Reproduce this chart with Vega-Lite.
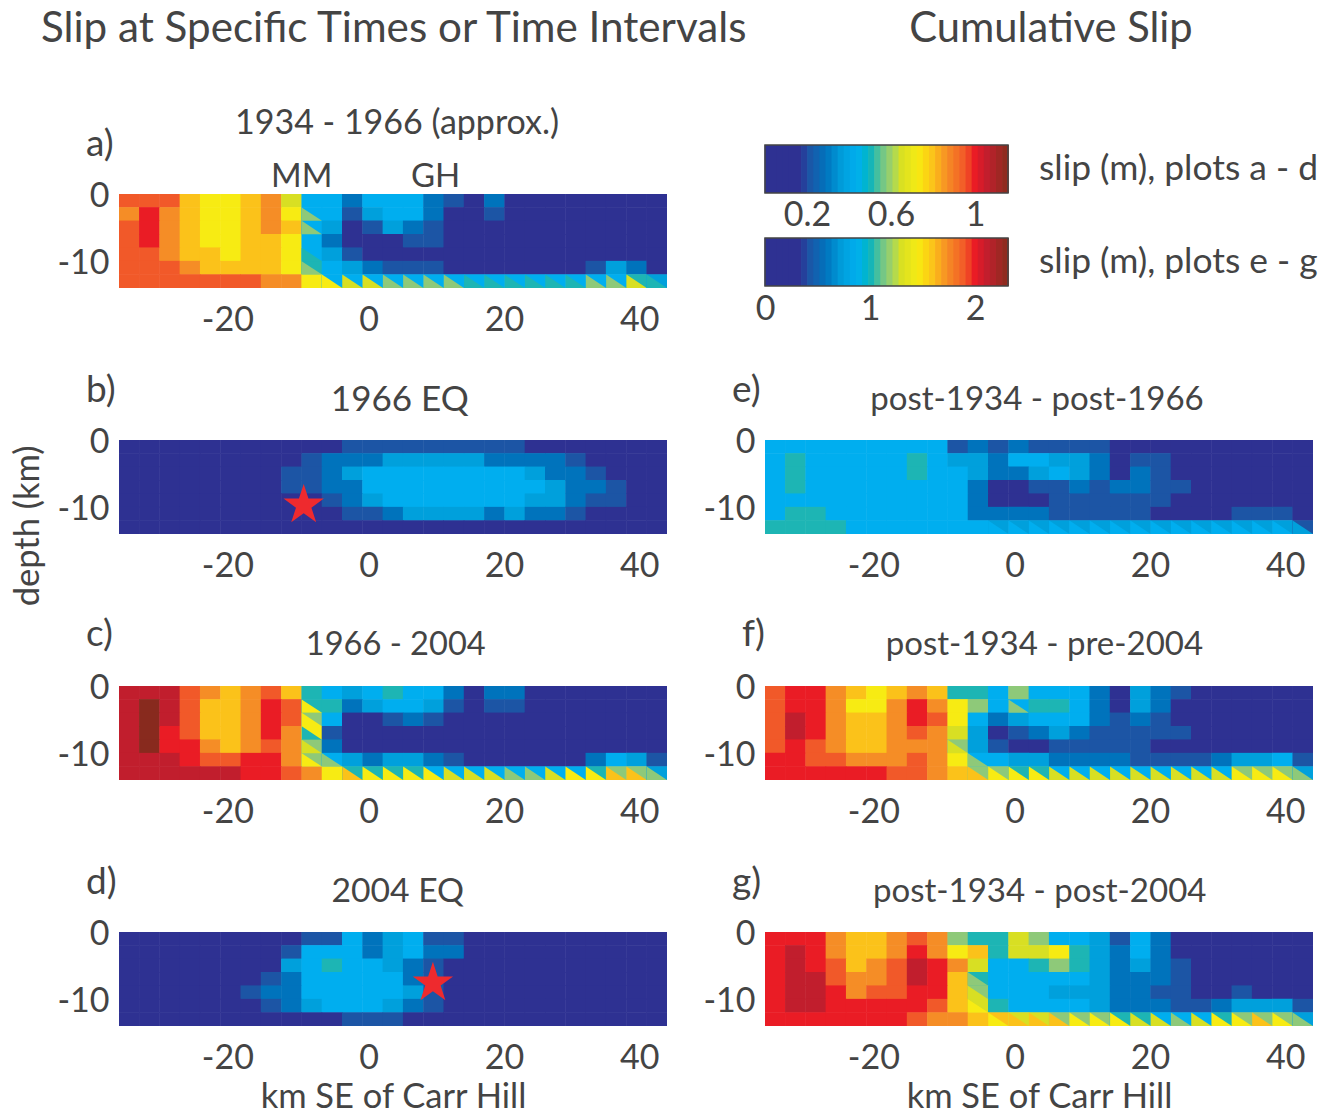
{"$schema":"https://vega.github.io/schema/vega-lite/v6.json","background":"#ffffff","padding":{"left":10,"top":8,"right":0,"bottom":0},"columns":2,"spacing":{"row":152,"column":98},"bounds":"flush","resolve":{"scale":{"color":"independent"}},
"config":{"axis":{"labelFont":"Lato","labelFontSize":34,"labelColor":"#444444","domain":false,"ticks":false,"grid":false,"labelPadding":15,"labelFlush":false,"titleFont":"Lato","titleFontSize":34.5,"titleColor":"#444444","titleFontWeight":"normal","titlePadding":5},"text":{"font":"Lato","color":"#444444"}},
"datasets":{
"cells":[
{"x":-35.7,"z":-1,"a":0.95,"b":0.09,"c":1.06,"d":0.09,"e":0.88,"f":1.9,"g":2},
{"x":-32.7,"z":-1,"a":0.95,"b":0.09,"c":1.06,"d":0.09,"e":0.88,"f":2,"g":2},
{"x":-29.7,"z":-1,"a":0.95,"b":0.09,"c":1.06,"d":0.09,"e":0.88,"f":2,"g":2},
{"x":-26.7,"z":-1,"a":0.8,"b":0.09,"c":0.95,"d":0.09,"e":0.88,"f":1.74,"g":1.74},
{"x":-23.7,"z":-1,"a":0.73,"b":0.09,"c":0.87,"d":0.09,"e":0.88,"f":1.6,"g":1.6},
{"x":-20.7,"z":-1,"a":0.73,"b":0.09,"c":0.8,"d":0.09,"e":0.88,"f":1.46,"g":1.6},
{"x":-17.7,"z":-1,"a":0.8,"b":0.09,"c":0.87,"d":0.09,"e":0.88,"f":1.6,"g":1.74},
{"x":-14.7,"z":-1,"a":0.87,"b":0.09,"c":0.95,"d":0.09,"e":0.88,"f":1.74,"g":1.9},
{"x":-11.7,"z":-1,"a":0.65,"b":0.09,"c":0.8,"d":0.09,"e":0.88,"f":1.6,"g":1.74},
{"x":-8.7,"z":-1,"a":0.44,"b":0.09,"c":0.51,"d":0.21,"e":0.42,"f":1.02,"g":1.16},
{"x":-5.7,"z":-1,"a":0.44,"b":0.09,"c":0.44,"d":0.21,"e":0.58,"f":1.02,"g":1.02},
{"x":-2.7,"z":-1,"a":0.29,"b":0.21,"c":0.37,"d":0.44,"e":0.42,"f":0.88,"g":1.02},
{"x":0.3,"z":-1,"a":0.44,"b":0.21,"c":0.44,"d":0.29,"e":0.58,"f":1.16,"g":1.3},
{"x":3.3,"z":-1,"a":0.44,"b":0.21,"c":0.51,"d":0.37,"e":0.42,"f":0.88,"g":1.16},
{"x":6.3,"z":-1,"a":0.44,"b":0.21,"c":0.44,"d":0.44,"e":0.42,"f":0.88,"g":0.88},
{"x":9.3,"z":-1,"a":0.29,"b":0.21,"c":0.44,"d":0.21,"e":0.42,"f":0.88,"g":0.88},
{"x":12.3,"z":-1,"a":0.21,"b":0.21,"c":0.29,"d":0.21,"e":0.42,"f":0.58,"g":0.74},
{"x":15.3,"z":-1,"a":0.09,"b":0.21,"c":0.09,"d":0.09,"e":0.18,"f":0.18,"g":0.42},
{"x":18.3,"z":-1,"a":0.29,"b":0.21,"c":0.29,"d":0.09,"e":0.18,"f":0.74,"g":0.88},
{"x":21.3,"z":-1,"a":0.09,"b":0.21,"c":0.29,"d":0.09,"e":0.18,"f":0.58,"g":0.58},
{"x":24.3,"z":-1,"a":0.09,"b":0.09,"c":0.09,"d":0.09,"e":0.18,"f":0.42,"g":0.18},
{"x":27.3,"z":-1,"a":0.09,"b":0.09,"c":0.09,"d":0.09,"e":0.18,"f":0.18,"g":0.18},
{"x":30.3,"z":-1,"a":0.09,"b":0.09,"c":0.09,"d":0.09,"e":0.18,"f":0.18,"g":0.18},
{"x":33.3,"z":-1,"a":0.09,"b":0.09,"c":0.09,"d":0.09,"e":0.18,"f":0.18,"g":0.18},
{"x":36.3,"z":-1,"a":0.09,"b":0.09,"c":0.09,"d":0.09,"e":0.18,"f":0.18,"g":0.18},
{"x":39.3,"z":-1,"a":0.09,"b":0.09,"c":0.09,"d":0.09,"e":0.18,"f":0.18,"g":0.18},
{"x":42.3,"z":-1,"a":0.09,"b":0.09,"c":0.09,"d":0.09,"e":0.18,"f":0.18,"g":0.18},
{"x":-35.7,"z":-3,"a":0.87,"b":0.09,"c":1.06,"d":0.09,"e":0.88,"f":1.9,"g":2},
{"x":-32.7,"z":-3,"a":1,"b":0.09,"c":1.16,"d":0.09,"e":1.02,"f":2,"g":2.12},
{"x":-29.7,"z":-3,"a":0.87,"b":0.09,"c":1.06,"d":0.09,"e":0.88,"f":2,"g":2},
{"x":-26.7,"z":-3,"a":0.8,"b":0.09,"c":0.95,"d":0.09,"e":0.88,"f":1.74,"g":1.74},
{"x":-23.7,"z":-3,"a":0.73,"b":0.09,"c":0.8,"d":0.09,"e":0.88,"f":1.46,"g":1.6},
{"x":-20.7,"z":-3,"a":0.73,"b":0.09,"c":0.8,"d":0.09,"e":0.88,"f":1.46,"g":1.6},
{"x":-17.7,"z":-3,"a":0.8,"b":0.09,"c":0.87,"d":0.09,"e":0.88,"f":1.74,"g":1.74},
{"x":-14.7,"z":-3,"a":0.87,"b":0.09,"c":1,"d":0.09,"e":1.02,"f":2,"g":2},
{"x":-11.7,"z":-3,"a":0.73,"b":0.09,"c":0.95,"d":0.21,"e":0.88,"f":1.74,"g":1.74},
{"x":-8.7,"z":-3,"a":0.44,"b":0.21,"c":0.51,"d":0.44,"e":0.74,"f":1.46,"g":1.46},
{"x":-5.7,"z":-3,"a":0.44,"b":0.29,"c":0.51,"d":0.44,"e":0.74,"f":1.16,"g":1.6},
{"x":-2.7,"z":-3,"a":0.21,"b":0.29,"c":0.29,"d":0.44,"e":0.58,"f":0.88,"g":1.02},
{"x":0.3,"z":-3,"a":0.37,"b":0.29,"c":0.37,"d":0.29,"e":0.88,"f":0.88,"g":1.3},
{"x":3.3,"z":-3,"a":0.44,"b":0.37,"c":0.44,"d":0.37,"e":0.88,"f":1.02,"g":1.3},
{"x":6.3,"z":-3,"a":0.44,"b":0.37,"c":0.44,"d":0.44,"e":0.74,"f":1.02,"g":1.46},
{"x":9.3,"z":-3,"a":0.29,"b":0.37,"c":0.37,"d":0.29,"e":0.74,"f":0.88,"g":1.02},
{"x":12.3,"z":-3,"a":0.09,"b":0.37,"c":0.21,"d":0.29,"e":0.58,"f":0.58,"g":0.74},
{"x":15.3,"z":-3,"a":0.09,"b":0.37,"c":0.09,"d":0.09,"e":0.18,"f":0.18,"g":0.58},
{"x":18.3,"z":-3,"a":0.21,"b":0.29,"c":0.21,"d":0.09,"e":0.42,"f":0.74,"g":0.88},
{"x":21.3,"z":-3,"a":0.09,"b":0.29,"c":0.21,"d":0.09,"e":0.42,"f":0.58,"g":0.58},
{"x":24.3,"z":-3,"a":0.09,"b":0.29,"c":0.09,"d":0.09,"e":0.18,"f":0.18,"g":0.18},
{"x":27.3,"z":-3,"a":0.09,"b":0.29,"c":0.09,"d":0.09,"e":0.18,"f":0.18,"g":0.18},
{"x":30.3,"z":-3,"a":0.09,"b":0.21,"c":0.09,"d":0.09,"e":0.18,"f":0.18,"g":0.18},
{"x":33.3,"z":-3,"a":0.09,"b":0.09,"c":0.09,"d":0.09,"e":0.18,"f":0.18,"g":0.18},
{"x":36.3,"z":-3,"a":0.09,"b":0.09,"c":0.09,"d":0.09,"e":0.18,"f":0.18,"g":0.18},
{"x":39.3,"z":-3,"a":0.09,"b":0.09,"c":0.09,"d":0.09,"e":0.18,"f":0.18,"g":0.18},
{"x":42.3,"z":-3,"a":0.09,"b":0.09,"c":0.09,"d":0.09,"e":0.18,"f":0.18,"g":0.18},
{"x":-35.7,"z":-5,"a":0.95,"b":0.09,"c":1.06,"d":0.09,"e":0.88,"f":1.9,"g":2},
{"x":-32.7,"z":-5,"a":1,"b":0.09,"c":1.16,"d":0.09,"e":1.02,"f":2.12,"g":2.12},
{"x":-29.7,"z":-5,"a":0.87,"b":0.09,"c":1.06,"d":0.09,"e":0.88,"f":2,"g":2},
{"x":-26.7,"z":-5,"a":0.8,"b":0.09,"c":0.95,"d":0.09,"e":0.88,"f":1.74,"g":1.9},
{"x":-23.7,"z":-5,"a":0.73,"b":0.09,"c":0.8,"d":0.09,"e":0.88,"f":1.6,"g":1.6},
{"x":-20.7,"z":-5,"a":0.73,"b":0.09,"c":0.8,"d":0.09,"e":0.88,"f":1.6,"g":1.74},
{"x":-17.7,"z":-5,"a":0.8,"b":0.09,"c":0.87,"d":0.09,"e":0.88,"f":1.74,"g":1.9},
{"x":-14.7,"z":-5,"a":0.87,"b":0.09,"c":1,"d":0.09,"e":1.02,"f":2,"g":2.12},
{"x":-11.7,"z":-5,"a":0.8,"b":0.21,"c":0.95,"d":0.37,"e":0.88,"f":1.9,"g":2},
{"x":-8.7,"z":-5,"a":0.44,"b":0.21,"c":0.58,"d":0.44,"e":0.88,"f":1.46,"g":1.74},
{"x":-5.7,"z":-5,"a":0.37,"b":0.29,"c":0.44,"d":0.51,"e":0.74,"f":0.88,"g":1.3},
{"x":-2.7,"z":-5,"a":0.09,"b":0.37,"c":0.09,"d":0.44,"e":0.58,"f":0.58,"g":0.88},
{"x":0.3,"z":-5,"a":0.21,"b":0.44,"c":0.09,"d":0.44,"e":0.58,"f":0.74,"g":0.88},
{"x":3.3,"z":-5,"a":0.37,"b":0.44,"c":0.21,"d":0.37,"e":0.74,"f":0.88,"g":1.02},
{"x":6.3,"z":-5,"a":0.29,"b":0.44,"c":0.29,"d":0.29,"e":0.88,"f":0.88,"g":1.16},
{"x":9.3,"z":-5,"a":0.21,"b":0.44,"c":0.21,"d":0.21,"e":0.74,"f":0.88,"g":1.02},
{"x":12.3,"z":-5,"a":0.09,"b":0.44,"c":0.09,"d":0.09,"e":0.58,"f":0.58,"g":0.74},
{"x":15.3,"z":-5,"a":0.09,"b":0.44,"c":0.09,"d":0.09,"e":0.18,"f":0.42,"g":0.58},
{"x":18.3,"z":-5,"a":0.09,"b":0.44,"c":0.09,"d":0.09,"e":0.58,"f":0.58,"g":0.74},
{"x":21.3,"z":-5,"a":0.09,"b":0.44,"c":0.09,"d":0.09,"e":0.42,"f":0.42,"g":0.58},
{"x":24.3,"z":-5,"a":0.09,"b":0.37,"c":0.09,"d":0.09,"e":0.18,"f":0.18,"g":0.42},
{"x":27.3,"z":-5,"a":0.09,"b":0.29,"c":0.09,"d":0.09,"e":0.18,"f":0.18,"g":0.18},
{"x":30.3,"z":-5,"a":0.09,"b":0.29,"c":0.09,"d":0.09,"e":0.18,"f":0.18,"g":0.18},
{"x":33.3,"z":-5,"a":0.09,"b":0.21,"c":0.09,"d":0.09,"e":0.18,"f":0.18,"g":0.18},
{"x":36.3,"z":-5,"a":0.09,"b":0.09,"c":0.09,"d":0.09,"e":0.18,"f":0.18,"g":0.18},
{"x":39.3,"z":-5,"a":0.09,"b":0.09,"c":0.09,"d":0.09,"e":0.18,"f":0.18,"g":0.18},
{"x":42.3,"z":-5,"a":0.09,"b":0.09,"c":0.09,"d":0.09,"e":0.18,"f":0.18,"g":0.18},
{"x":-35.7,"z":-7,"a":0.95,"b":0.09,"c":1.06,"d":0.09,"e":0.88,"f":1.9,"g":2},
{"x":-32.7,"z":-7,"a":1,"b":0.09,"c":1.16,"d":0.09,"e":1.02,"f":2.12,"g":2.12},
{"x":-29.7,"z":-7,"a":0.87,"b":0.09,"c":1,"d":0.09,"e":0.88,"f":2,"g":2.12},
{"x":-26.7,"z":-7,"a":0.8,"b":0.09,"c":0.95,"d":0.09,"e":0.88,"f":1.74,"g":1.9},
{"x":-23.7,"z":-7,"a":0.73,"b":0.09,"c":0.8,"d":0.09,"e":0.88,"f":1.6,"g":1.74},
{"x":-20.7,"z":-7,"a":0.73,"b":0.09,"c":0.8,"d":0.09,"e":0.88,"f":1.6,"g":1.74},
{"x":-17.7,"z":-7,"a":0.8,"b":0.09,"c":0.87,"d":0.09,"e":0.88,"f":1.74,"g":1.9},
{"x":-14.7,"z":-7,"a":0.8,"b":0.09,"c":1,"d":0.21,"e":0.88,"f":1.9,"g":2.12},
{"x":-11.7,"z":-7,"a":0.73,"b":0.21,"c":0.87,"d":0.29,"e":0.88,"f":1.74,"g":2},
{"x":-8.7,"z":-7,"a":0.44,"b":0.21,"c":0.73,"d":0.44,"e":0.88,"f":1.3,"g":1.6},
{"x":-5.7,"z":-7,"a":0.29,"b":0.29,"c":0.21,"d":0.44,"e":0.58,"f":0.74,"g":1.02},
{"x":-2.7,"z":-7,"a":0.09,"b":0.29,"c":0.09,"d":0.44,"e":0.18,"f":0.18,"g":0.88},
{"x":0.3,"z":-7,"a":0.09,"b":0.44,"c":0.09,"d":0.44,"e":0.18,"f":0.42,"g":0.88},
{"x":3.3,"z":-7,"a":0.09,"b":0.44,"c":0.09,"d":0.44,"e":0.42,"f":0.58,"g":0.88},
{"x":6.3,"z":-7,"a":0.21,"b":0.44,"c":0.09,"d":0.29,"e":0.42,"f":0.74,"g":0.88},
{"x":9.3,"z":-7,"a":0.21,"b":0.44,"c":0.09,"d":0.21,"e":0.58,"f":0.58,"g":0.88},
{"x":12.3,"z":-7,"a":0.09,"b":0.44,"c":0.09,"d":0.09,"e":0.42,"f":0.42,"g":0.74},
{"x":15.3,"z":-7,"a":0.09,"b":0.44,"c":0.09,"d":0.09,"e":0.58,"f":0.42,"g":0.58},
{"x":18.3,"z":-7,"a":0.09,"b":0.44,"c":0.09,"d":0.09,"e":0.58,"f":0.42,"g":0.58},
{"x":21.3,"z":-7,"a":0.09,"b":0.44,"c":0.09,"d":0.09,"e":0.42,"f":0.42,"g":0.58},
{"x":24.3,"z":-7,"a":0.09,"b":0.44,"c":0.09,"d":0.09,"e":0.42,"f":0.42,"g":0.42},
{"x":27.3,"z":-7,"a":0.09,"b":0.37,"c":0.09,"d":0.09,"e":0.18,"f":0.18,"g":0.18},
{"x":30.3,"z":-7,"a":0.09,"b":0.29,"c":0.09,"d":0.09,"e":0.18,"f":0.18,"g":0.18},
{"x":33.3,"z":-7,"a":0.09,"b":0.29,"c":0.09,"d":0.09,"e":0.18,"f":0.18,"g":0.18},
{"x":36.3,"z":-7,"a":0.09,"b":0.21,"c":0.09,"d":0.09,"e":0.18,"f":0.18,"g":0.18},
{"x":39.3,"z":-7,"a":0.09,"b":0.09,"c":0.09,"d":0.09,"e":0.18,"f":0.18,"g":0.18},
{"x":42.3,"z":-7,"a":0.09,"b":0.09,"c":0.09,"d":0.09,"e":0.18,"f":0.18,"g":0.18},
{"x":-35.7,"z":-9,"a":0.95,"b":0.09,"c":1.06,"d":0.09,"e":0.88,"f":1.9,"g":2},
{"x":-32.7,"z":-9,"a":0.95,"b":0.09,"c":1.16,"d":0.09,"e":0.88,"f":2,"g":2.12},
{"x":-29.7,"z":-9,"a":0.87,"b":0.09,"c":1,"d":0.09,"e":0.88,"f":1.9,"g":2.12},
{"x":-26.7,"z":-9,"a":0.8,"b":0.09,"c":1,"d":0.09,"e":0.88,"f":1.74,"g":2},
{"x":-23.7,"z":-9,"a":0.8,"b":0.09,"c":0.87,"d":0.09,"e":0.88,"f":1.6,"g":1.74},
{"x":-20.7,"z":-9,"a":0.73,"b":0.09,"c":0.8,"d":0.09,"e":0.88,"f":1.6,"g":1.9},
{"x":-17.7,"z":-9,"a":0.8,"b":0.09,"c":0.87,"d":0.21,"e":0.88,"f":1.74,"g":1.9},
{"x":-14.7,"z":-9,"a":0.8,"b":0.09,"c":0.95,"d":0.29,"e":0.88,"f":1.74,"g":2},
{"x":-11.7,"z":-9,"a":0.73,"b":0.09,"c":0.87,"d":0.29,"e":0.88,"f":1.74,"g":2},
{"x":-8.7,"z":-9,"a":0.44,"b":0.09,"c":0.58,"d":0.44,"e":0.88,"f":1.16,"g":1.6},
{"x":-5.7,"z":-9,"a":0.37,"b":0.21,"c":0.29,"d":0.44,"e":0.58,"f":0.74,"g":1.16},
{"x":-2.7,"z":-9,"a":0.21,"b":0.29,"c":0.09,"d":0.44,"e":0.18,"f":0.42,"g":0.88},
{"x":0.3,"z":-9,"a":0.09,"b":0.37,"c":0.09,"d":0.44,"e":0.18,"f":0.18,"g":0.88},
{"x":3.3,"z":-9,"a":0.09,"b":0.44,"c":0.09,"d":0.44,"e":0.18,"f":0.18,"g":0.88},
{"x":6.3,"z":-9,"a":0.09,"b":0.44,"c":0.09,"d":0.37,"e":0.42,"f":0.42,"g":0.74},
{"x":9.3,"z":-9,"a":0.09,"b":0.44,"c":0.09,"d":0.21,"e":0.42,"f":0.42,"g":0.74},
{"x":12.3,"z":-9,"a":0.09,"b":0.44,"c":0.09,"d":0.09,"e":0.42,"f":0.42,"g":0.74},
{"x":15.3,"z":-9,"a":0.09,"b":0.44,"c":0.09,"d":0.09,"e":0.42,"f":0.42,"g":0.58},
{"x":18.3,"z":-9,"a":0.09,"b":0.44,"c":0.09,"d":0.09,"e":0.42,"f":0.42,"g":0.58},
{"x":21.3,"z":-9,"a":0.09,"b":0.44,"c":0.09,"d":0.09,"e":0.42,"f":0.18,"g":0.42},
{"x":24.3,"z":-9,"a":0.09,"b":0.37,"c":0.09,"d":0.09,"e":0.18,"f":0.18,"g":0.42},
{"x":27.3,"z":-9,"a":0.09,"b":0.37,"c":0.09,"d":0.09,"e":0.18,"f":0.18,"g":0.18},
{"x":30.3,"z":-9,"a":0.09,"b":0.29,"c":0.09,"d":0.09,"e":0.18,"f":0.18,"g":0.18},
{"x":33.3,"z":-9,"a":0.09,"b":0.21,"c":0.09,"d":0.09,"e":0.18,"f":0.18,"g":0.42},
{"x":36.3,"z":-9,"a":0.09,"b":0.21,"c":0.09,"d":0.09,"e":0.18,"f":0.18,"g":0.18},
{"x":39.3,"z":-9,"a":0.09,"b":0.09,"c":0.09,"d":0.09,"e":0.18,"f":0.18,"g":0.18},
{"x":42.3,"z":-9,"a":0.09,"b":0.09,"c":0.09,"d":0.09,"e":0.18,"f":0.18,"g":0.18},
{"x":-35.7,"z":-11,"a":0.95,"b":0.09,"c":1.06,"d":0.09,"e":0.88,"f":2,"g":2},
{"x":-32.7,"z":-11,"a":0.95,"b":0.09,"c":1.06,"d":0.09,"e":1.02,"f":2,"g":2.12},
{"x":-29.7,"z":-11,"a":0.95,"b":0.09,"c":1.06,"d":0.09,"e":1.02,"f":1.9,"g":2.12},
{"x":-26.7,"z":-11,"a":0.87,"b":0.09,"c":1,"d":0.09,"e":0.88,"f":1.9,"g":2},
{"x":-23.7,"z":-11,"a":0.8,"b":0.09,"c":0.95,"d":0.09,"e":0.88,"f":1.74,"g":2},
{"x":-20.7,"z":-11,"a":0.8,"b":0.09,"c":0.95,"d":0.09,"e":0.88,"f":1.74,"g":2},
{"x":-17.7,"z":-11,"a":0.8,"b":0.09,"c":1,"d":0.09,"e":0.88,"f":1.74,"g":2},
{"x":-14.7,"z":-11,"a":0.8,"b":0.09,"c":1,"d":0.21,"e":0.88,"f":1.9,"g":2},
{"x":-11.7,"z":-11,"a":0.73,"b":0.09,"c":0.87,"d":0.29,"e":0.88,"f":1.74,"g":1.9},
{"x":-8.7,"z":-11,"a":0.51,"b":0.09,"c":0.58,"d":0.37,"e":0.88,"f":1.46,"g":1.6},
{"x":-5.7,"z":-11,"a":0.44,"b":0.09,"c":0.44,"d":0.44,"e":0.58,"f":0.88,"g":1.3},
{"x":-2.7,"z":-11,"a":0.37,"b":0.21,"c":0.37,"d":0.44,"e":0.58,"f":0.88,"g":1.02},
{"x":0.3,"z":-11,"a":0.29,"b":0.21,"c":0.29,"d":0.44,"e":0.58,"f":0.74,"g":0.88},
{"x":3.3,"z":-11,"a":0.21,"b":0.29,"c":0.37,"d":0.37,"e":0.58,"f":0.74,"g":0.88},
{"x":6.3,"z":-11,"a":0.21,"b":0.37,"c":0.37,"d":0.29,"e":0.42,"f":0.58,"g":0.88},
{"x":9.3,"z":-11,"a":0.21,"b":0.37,"c":0.29,"d":0.21,"e":0.42,"f":0.58,"g":0.88},
{"x":12.3,"z":-11,"a":0.09,"b":0.37,"c":0.21,"d":0.09,"e":0.42,"f":0.58,"g":0.74},
{"x":15.3,"z":-11,"a":0.09,"b":0.37,"c":0.09,"d":0.09,"e":0.42,"f":0.58,"g":0.58},
{"x":18.3,"z":-11,"a":0.09,"b":0.29,"c":0.09,"d":0.09,"e":0.42,"f":0.42,"g":0.58},
{"x":21.3,"z":-11,"a":0.09,"b":0.37,"c":0.09,"d":0.09,"e":0.18,"f":0.42,"g":0.58},
{"x":24.3,"z":-11,"a":0.09,"b":0.29,"c":0.09,"d":0.09,"e":0.18,"f":0.42,"g":0.42},
{"x":27.3,"z":-11,"a":0.09,"b":0.29,"c":0.09,"d":0.09,"e":0.18,"f":0.42,"g":0.42},
{"x":30.3,"z":-11,"a":0.09,"b":0.21,"c":0.09,"d":0.09,"e":0.18,"f":0.58,"g":0.58},
{"x":33.3,"z":-11,"a":0.21,"b":0.09,"c":0.29,"d":0.09,"e":0.42,"f":0.74,"g":0.74},
{"x":36.3,"z":-11,"a":0.37,"b":0.09,"c":0.44,"d":0.09,"e":0.42,"f":0.74,"g":0.74},
{"x":39.3,"z":-11,"a":0.29,"b":0.09,"c":0.37,"d":0.09,"e":0.42,"f":0.88,"g":0.74},
{"x":42.3,"z":-11,"a":0.09,"b":0.09,"c":0.21,"d":0.09,"e":0.18,"f":0.42,"g":0.42},
{"x":-35.7,"z":-13,"a":0.95,"b":0.09,"c":1.06,"d":0.09,"e":1.02,"f":2,"g":2},
{"x":-32.7,"z":-13,"a":0.95,"b":0.09,"c":1.06,"d":0.09,"e":1.02,"f":2,"g":2},
{"x":-29.7,"z":-13,"a":0.95,"b":0.09,"c":1.06,"d":0.09,"e":1.02,"f":2,"g":2},
{"x":-26.7,"z":-13,"a":0.95,"b":0.09,"c":1.06,"d":0.09,"e":1.02,"f":2,"g":2},
{"x":-23.7,"z":-13,"a":0.95,"b":0.09,"c":1.06,"d":0.09,"e":0.88,"f":2,"g":2},
{"x":-20.7,"z":-13,"a":0.95,"b":0.09,"c":1.06,"d":0.09,"e":0.88,"f":2,"g":2},
{"x":-17.7,"z":-13,"a":0.95,"b":0.09,"c":1,"d":0.09,"e":0.88,"f":1.9,"g":2},
{"x":-14.7,"z":-13,"a":0.87,"b":0.09,"c":1,"d":0.09,"e":0.88,"f":1.9,"g":1.9},
{"x":-11.7,"z":-13,"a":0.87,"b":0.09,"c":0.95,"d":0.09,"e":0.88,"f":1.74,"g":1.74},
{"x":-8.7,"z":-13,"a":0.73,"b":0.09,"c":0.87,"d":0.09,"e":0.88,"f":1.6,"g":1.74},
{"x":-5.7,"z":-13,"a":0.44,"b":0.09,"c":0.73,"d":0.09,"e":0.88,"f":1.16,"g":1.6},
{"x":-2.7,"z":-13,"a":0.44,"b":0.09,"c":0.51,"d":0.21,"e":0.74,"f":1.16,"g":1.6},
{"x":0.3,"z":-13,"a":0.44,"b":0.09,"c":0.51,"d":0.21,"e":0.74,"f":1.02,"g":1.3},
{"x":3.3,"z":-13,"a":0.44,"b":0.09,"c":0.51,"d":0.21,"e":0.74,"f":1.02,"g":1.3},
{"x":6.3,"z":-13,"a":0.44,"b":0.09,"c":0.51,"d":0.09,"e":0.74,"f":0.88,"g":1.16},
{"x":9.3,"z":-13,"a":0.44,"b":0.09,"c":0.44,"d":0.09,"e":0.74,"f":0.88,"g":1.16},
{"x":12.3,"z":-13,"a":0.44,"b":0.09,"c":0.44,"d":0.09,"e":0.74,"f":0.88,"g":1.16},
{"x":15.3,"z":-13,"a":0.44,"b":0.09,"c":0.44,"d":0.09,"e":0.74,"f":0.88,"g":1.02},
{"x":18.3,"z":-13,"a":0.44,"b":0.09,"c":0.44,"d":0.09,"e":0.74,"f":0.88,"g":1.02},
{"x":21.3,"z":-13,"a":0.44,"b":0.09,"c":0.44,"d":0.09,"e":0.74,"f":0.88,"g":0.88},
{"x":24.3,"z":-13,"a":0.44,"b":0.09,"c":0.44,"d":0.09,"e":0.74,"f":0.88,"g":0.88},
{"x":27.3,"z":-13,"a":0.44,"b":0.09,"c":0.44,"d":0.09,"e":0.74,"f":0.88,"g":0.88},
{"x":30.3,"z":-13,"a":0.44,"b":0.09,"c":0.44,"d":0.09,"e":0.74,"f":0.88,"g":1.02},
{"x":33.3,"z":-13,"a":0.44,"b":0.09,"c":0.51,"d":0.09,"e":0.74,"f":1.16,"g":1.16},
{"x":36.3,"z":-13,"a":0.44,"b":0.09,"c":0.58,"d":0.09,"e":0.74,"f":1.16,"g":1.16},
{"x":39.3,"z":-13,"a":0.51,"b":0.09,"c":0.58,"d":0.09,"e":0.74,"f":1.16,"g":1.16},
{"x":42.3,"z":-13,"a":0.37,"b":0.09,"c":0.37,"d":0.09,"e":0.42,"f":0.74,"g":0.74}
],
"tri":[
{"x":-5.7,"z":-13,"a":0.73,"f":1.6},
{"x":-2.7,"z":-13,"a":0.65,"c":0.8,"e":0.88,"f":1.46,"g":1.46},
{"x":0.3,"z":-13,"a":0.65,"c":0.73,"e":0.88,"f":1.46,"g":1.6},
{"x":3.3,"z":-13,"a":0.58,"c":0.73,"e":0.88,"f":1.46,"g":1.6},
{"x":6.3,"z":-13,"a":0.58,"c":0.73,"e":0.88,"f":1.3,"g":1.6},
{"x":9.3,"z":-13,"a":0.58,"c":0.73,"e":0.88,"f":1.3,"g":1.46},
{"x":12.3,"z":-13,"a":0.58,"c":0.65,"e":0.88,"f":1.3,"g":1.46},
{"x":15.3,"z":-13,"a":0.51,"c":0.65,"e":0.88,"f":1.3,"g":1.46},
{"x":18.3,"z":-13,"a":0.51,"c":0.65,"e":0.88,"f":1.3,"g":1.3},
{"x":21.3,"z":-13,"a":0.51,"c":0.58,"e":0.88,"f":1.3,"g":1.3},
{"x":24.3,"z":-13,"a":0.51,"c":0.58,"e":0.88,"f":1.3,"g":1.16},
{"x":27.3,"z":-13,"a":0.51,"c":0.65,"e":0.88,"f":1.3,"g":1.3},
{"x":30.3,"z":-13,"a":0.51,"c":0.73,"e":0.88,"f":1.3,"g":1.46},
{"x":33.3,"z":-13,"a":0.58,"c":0.73,"e":0.88,"f":1.46,"g":1.46},
{"x":36.3,"z":-13,"a":0.58,"c":0.8,"e":0.88,"f":1.46,"g":1.6},
{"x":39.3,"z":-13,"a":0.65,"c":0.8,"e":0.88,"f":1.46,"g":1.46},
{"x":42.3,"z":-13,"a":0.51,"c":0.58,"e":0.74,"f":1.16,"g":1.16},
{"x":-8.7,"z":-3,"a":0.58,"c":0.73},
{"x":-8.7,"z":-5,"a":0.58,"c":0.73},
{"x":-8.7,"z":-7,"c":0.51},
{"x":-8.7,"z":-9,"a":0.51,"c":0.65,"f":1.3},
{"x":-8.7,"z":-11,"a":0.58,"c":0.73},
{"x":-5.7,"z":-7,"g":1.16},
{"x":-5.7,"z":-9,"g":1.3},
{"x":-5.7,"z":-11,"c":0.58,"f":1.16,"g":1.46},
{"x":0.3,"z":-3,"f":1.16}
],
"bars":[
{"m":0.014,"n":0.028},{"m":0.043,"n":0.086},{"m":0.072,"n":0.144},{"m":0.101,"n":0.202},{"m":0.13,"n":0.26},{"m":0.159,"n":0.318},{"m":0.188,"n":0.376},{"m":0.217,"n":0.434},{"m":0.246,"n":0.492},{"m":0.275,"n":0.55},{"m":0.304,"n":0.608},{"m":0.333,"n":0.666},{"m":0.362,"n":0.724},{"m":0.391,"n":0.782},{"m":0.42,"n":0.84},{"m":0.449,"n":0.898},{"m":0.478,"n":0.956},{"m":0.507,"n":1.014},{"m":0.536,"n":1.072},{"m":0.565,"n":1.13},{"m":0.594,"n":1.188},{"m":0.623,"n":1.246},{"m":0.652,"n":1.304},{"m":0.681,"n":1.362},{"m":0.71,"n":1.42},{"m":0.739,"n":1.478},{"m":0.768,"n":1.536},{"m":0.797,"n":1.594},{"m":0.826,"n":1.652},{"m":0.855,"n":1.71},{"m":0.884,"n":1.768},{"m":0.913,"n":1.826},{"m":0.942,"n":1.884},{"m":0.971,"n":1.942},{"m":1,"n":2},{"m":1.029,"n":2.058},{"m":1.058,"n":2.116},{"m":1.087,"n":2.174},{"m":1.116,"n":2.232},{"m":1.145,"n":2.29}
]},
"concat":[
{"width":548,"height":94,"view":{"stroke":null},"data":{"name":"cells"},
"encoding":{"x":{"field":"x","type":"quantitative","scale":{"domain":[-37.2,43.8],"nice":false,"zero":false},"axis":{"values":[-20,0,20,40],"title":null,"labelExpr":"''+datum.value","labelOffset":{"condition":{"test":"datum.value==-20","value":-8},"value":-2}}},"y":{"field":"z","type":"quantitative","scale":{"domain":[-14,0],"nice":false,"zero":false},"axis":{"values":[0,-10],"title":null,"labelPadding":10,"labelOffset":2,"labelExpr":"''+datum.value"}}},
"layer":[
{"mark":{"type":"rect","width":20.8,"height":14,"clip":true},"encoding":{"color":{"field":"a","type":"quantitative","legend":null,"scale":{"domain":[0,0.174,0.208,0.289,0.37,0.44,0.509,0.579,0.648,0.729,0.798,0.868,0.949,0.995,1.064,1.157],"range":["#2e3192","#2e3192","#1c54a4","#0072bc","#00a0dc","#00aeef","#1cb5b5","#8dc97a","#d7df23","#f7ec13","#fbc41a","#f58e26","#f15a29","#ed1c24","#be1e2d","#8a2a1e"]}}}},
{"data":{"name":"tri"},"transform":[{"filter":"isValid(datum.a)"}],"mark":{"type":"point","shape":"M-1,-0.66L-1,0.66L1,0.66Z","filled":true,"size":412,"opacity":1,"strokeWidth":0,"clip":true},"encoding":{"color":{"field":"a","type":"quantitative","legend":null}}},
{"data":{"values":[{"x":3.9,"z":0,"t":"1934 - 1966 (approx.)"}]},"mark":{"type":"text","dy":-70,"fontSize":34},"encoding":{"text":{"field":"t"}}},
{"data":{"values":[{"x":3.4,"z":0,"t":"Slip at Specific Times or Time Intervals"}]},"mark":{"type":"text","dy":-165,"fontSize":42.2},"encoding":{"text":{"field":"t"}}},
{"data":{"values":[{"x":-10.2,"z":0,"t":"MM"},{"x":9.6,"z":0,"t":"GH"}]},"mark":{"type":"text","dy":-17,"fontSize":33},"encoding":{"text":{"field":"t"}}},
{"data":{"values":[{"x":-37.2,"z":0,"t":"a)"}]},"mark":{"type":"text","align":"left","dx":-33,"dy":-49,"fontSize":37},"encoding":{"text":{"field":"t"}}}
]},
{"width":243,"height":94,"view":{"stroke":null},
"layer":[
{"data":{"name":"bars"},"mark":{"type":"rect","width":6.8},"encoding":{"x":{"field":"m","type":"quantitative","scale":{"domain":[0,1.157],"nice":false,"zero":false},"axis":{"values":[0.2,0.6,1],"format":"~g","title":null,"orient":"bottom","offset":-95,"labelPadding":5}},"y":{"datum":-49,"type":"quantitative","scale":{"domain":[0,94],"reverse":true,"nice":false,"zero":false},"axis":null},"y2":{"datum":-1},"color":{"field":"m","type":"quantitative","legend":null,"scale":{"domain":[0,0.174,0.208,0.289,0.37,0.44,0.509,0.579,0.648,0.729,0.798,0.868,0.949,0.995,1.064,1.157],"range":["#2e3192","#2e3192","#1c54a4","#0072bc","#00a0dc","#00aeef","#1cb5b5","#8dc97a","#d7df23","#f7ec13","#fbc41a","#f58e26","#f15a29","#ed1c24","#be1e2d","#8a2a1e"]}}}},
{"data":{"name":"bars"},"mark":{"type":"rect","width":6.8},"encoding":{"x":{"field":"n","type":"quantitative","scale":{"domain":[0,2.314],"nice":false,"zero":false},"axis":{"values":[0,1,2],"format":"~g","title":null,"orient":"bottom","labelPadding":4}},"y":{"datum":44,"type":"quantitative"},"y2":{"datum":92},"color":{"field":"n","type":"quantitative","legend":null,"scale":{"domain":[0,0.348,0.416,0.578,0.74,0.88,1.018,1.158,1.296,1.458,1.596,1.736,1.898,1.99,2.128,2.314],"range":["#2e3192","#2e3192","#1c54a4","#0072bc","#00a0dc","#00aeef","#1cb5b5","#8dc97a","#d7df23","#f7ec13","#fbc41a","#f58e26","#f15a29","#ed1c24","#be1e2d","#8a2a1e"]}}}},
{"data":{"values":[{"p":0,"q":1,"t":"slip (m), plots a - d"}]},"mark":{"type":"text","align":"left","dx":31,"fontSize":35.4},"encoding":{"x":{"field":"q","type":"quantitative","scale":{"domain":[0,1],"nice":false},"axis":null},"y":{"datum":-25,"type":"quantitative"},"text":{"field":"t"}}},
{"data":{"values":[{"p":0,"q":1,"t":"slip (m), plots e - g"}]},"mark":{"type":"text","align":"left","dx":31,"fontSize":35.4},"encoding":{"x":{"field":"q","type":"quantitative","scale":{"domain":[0,1],"nice":false},"axis":null},"y":{"datum":68,"type":"quantitative"},"text":{"field":"t"}}},
{"data":{"values":[{"q":1,"t":"Cumulative Slip"}]},"mark":{"type":"text","align":"center","dx":43,"fontSize":41.7},"encoding":{"x":{"field":"q","type":"quantitative","scale":{"domain":[0,1],"nice":false},"axis":null},"y":{"datum":-165,"type":"quantitative"},"text":{"field":"t"}}},
{"data":{"values":[{"p":0,"q":1}]},"mark":{"type":"rect","filled":false,"stroke":"#444444","strokeWidth":1.5},"encoding":{"x":{"field":"p","type":"quantitative","scale":{"domain":[0,1],"nice":false},"axis":null},"x2":{"field":"q"},"y":{"datum":-49,"type":"quantitative"},"y2":{"datum":-1}}},
{"data":{"values":[{"p":0,"q":1}]},"mark":{"type":"rect","filled":false,"stroke":"#444444","strokeWidth":1.5},"encoding":{"x":{"field":"p","type":"quantitative","scale":{"domain":[0,1],"nice":false},"axis":null},"x2":{"field":"q"},"y":{"datum":44,"type":"quantitative"},"y2":{"datum":92}}}
],"resolve":{"scale":{"x":"independent","color":"independent"},"axis":{"x":"independent"}}},
{"width":548,"height":94,"view":{"stroke":null},"data":{"name":"cells"},
"encoding":{"x":{"field":"x","type":"quantitative","scale":{"domain":[-37.2,43.8],"nice":false,"zero":false},"axis":{"values":[-20,0,20,40],"title":null,"labelExpr":"''+datum.value","labelOffset":{"condition":{"test":"datum.value==-20","value":-8},"value":-2}}},"y":{"field":"z","type":"quantitative","scale":{"domain":[-14,0],"nice":false,"zero":false},"axis":{"values":[0,-10],"title":null,"labelPadding":10,"labelOffset":2,"labelExpr":"''+datum.value"}}},
"layer":[
{"mark":{"type":"rect","width":20.8,"height":14,"clip":true},"encoding":{"color":{"field":"b","type":"quantitative","legend":null,"scale":{"domain":[0,0.174,0.208,0.289,0.37,0.44,0.509,0.579,0.648,0.729,0.798,0.868,0.949,0.995,1.064,1.157],"range":["#2e3192","#2e3192","#1c54a4","#0072bc","#00a0dc","#00aeef","#1cb5b5","#8dc97a","#d7df23","#f7ec13","#fbc41a","#f58e26","#f15a29","#ed1c24","#be1e2d","#8a2a1e"]}}}},
{"data":{"values":[{"x":-9.9,"z":-9.7}]},"mark":{"type":"point","shape":"M0,-1L0.2245,-0.309L0.951,-0.309L0.363,0.118L0.588,0.809L0,0.382L-0.588,0.809L-0.363,0.118L-0.951,-0.309L-0.2245,-0.309Z","filled":true,"size":1800,"opacity":1,"color":"#ee2a2e"}},
{"data":{"values":[{"x":4.3,"z":0,"t":"1966 EQ"}]},"mark":{"type":"text","dy":-40,"fontSize":35},"encoding":{"text":{"field":"t"}}},
{"data":{"values":[{"x":-37.2,"z":0,"t":"b)"}]},"mark":{"type":"text","align":"left","dx":-33,"dy":-49,"fontSize":37},"encoding":{"text":{"field":"t"}}},
{"data":{"values":[{"x":-37.2,"z":-12.8,"t":"depth (km)"}]},"mark":{"type":"text","angle":270,"dy":-90,"fontSize":34.5},"encoding":{"text":{"field":"t"}}}
]},
{"width":548,"height":94,"view":{"stroke":null},"data":{"name":"cells"},
"encoding":{"x":{"field":"x","type":"quantitative","scale":{"domain":[-37.2,43.8],"nice":false,"zero":false},"axis":{"values":[-20,0,20,40],"title":null,"labelExpr":"''+datum.value","labelOffset":{"condition":{"test":"datum.value==-20","value":-8},"value":-2}}},"y":{"field":"z","type":"quantitative","scale":{"domain":[-14,0],"nice":false,"zero":false},"axis":{"values":[0,-10],"title":null,"labelPadding":10,"labelOffset":2,"labelExpr":"''+datum.value"}}},
"layer":[
{"mark":{"type":"rect","width":20.8,"height":14,"clip":true},"encoding":{"color":{"field":"e","type":"quantitative","legend":null,"scale":{"domain":[0,0.348,0.416,0.578,0.74,0.88,1.018,1.158,1.296,1.458,1.596,1.736,1.898,1.99,2.128,2.314],"range":["#2e3192","#2e3192","#1c54a4","#0072bc","#00a0dc","#00aeef","#1cb5b5","#8dc97a","#d7df23","#f7ec13","#fbc41a","#f58e26","#f15a29","#ed1c24","#be1e2d","#8a2a1e"]}}}},
{"data":{"name":"tri"},"transform":[{"filter":"isValid(datum.e)"}],"mark":{"type":"point","shape":"M-1,-0.66L-1,0.66L1,0.66Z","filled":true,"size":412,"opacity":1,"strokeWidth":0,"clip":true},"encoding":{"color":{"field":"e","type":"quantitative","legend":null}}},
{"data":{"values":[{"x":3,"z":0,"t":"post-1934 - post-1966"}]},"mark":{"type":"text","dy":-40,"fontSize":33},"encoding":{"text":{"field":"t"}}},
{"data":{"values":[{"x":-37.2,"z":0,"t":"e)"}]},"mark":{"type":"text","align":"left","dx":-33,"dy":-49,"fontSize":37},"encoding":{"text":{"field":"t"}}}
]},
{"width":548,"height":94,"view":{"stroke":null},"data":{"name":"cells"},
"encoding":{"x":{"field":"x","type":"quantitative","scale":{"domain":[-37.2,43.8],"nice":false,"zero":false},"axis":{"values":[-20,0,20,40],"title":null,"labelExpr":"''+datum.value","labelOffset":{"condition":{"test":"datum.value==-20","value":-8},"value":-2}}},"y":{"field":"z","type":"quantitative","scale":{"domain":[-14,0],"nice":false,"zero":false},"axis":{"values":[0,-10],"title":null,"labelPadding":10,"labelOffset":2,"labelExpr":"''+datum.value"}}},
"layer":[
{"mark":{"type":"rect","width":20.8,"height":14,"clip":true},"encoding":{"color":{"field":"c","type":"quantitative","legend":null,"scale":{"domain":[0,0.174,0.208,0.289,0.37,0.44,0.509,0.579,0.648,0.729,0.798,0.868,0.949,0.995,1.064,1.157],"range":["#2e3192","#2e3192","#1c54a4","#0072bc","#00a0dc","#00aeef","#1cb5b5","#8dc97a","#d7df23","#f7ec13","#fbc41a","#f58e26","#f15a29","#ed1c24","#be1e2d","#8a2a1e"]}}}},
{"data":{"name":"tri"},"transform":[{"filter":"isValid(datum.c)"}],"mark":{"type":"point","shape":"M-1,-0.66L-1,0.66L1,0.66Z","filled":true,"size":412,"opacity":1,"strokeWidth":0,"clip":true},"encoding":{"color":{"field":"c","type":"quantitative","legend":null}}},
{"data":{"values":[{"x":3.7,"z":0,"t":"1966 - 2004"}]},"mark":{"type":"text","dy":-41,"fontSize":32.6},"encoding":{"text":{"field":"t"}}},
{"data":{"values":[{"x":-37.2,"z":0,"t":"c)"}]},"mark":{"type":"text","align":"left","dx":-33,"dy":-51,"fontSize":37},"encoding":{"text":{"field":"t"}}}
]},
{"width":548,"height":94,"view":{"stroke":null},"data":{"name":"cells"},
"encoding":{"x":{"field":"x","type":"quantitative","scale":{"domain":[-37.2,43.8],"nice":false,"zero":false},"axis":{"values":[-20,0,20,40],"title":null,"labelExpr":"''+datum.value","labelOffset":{"condition":{"test":"datum.value==-20","value":-8},"value":-2}}},"y":{"field":"z","type":"quantitative","scale":{"domain":[-14,0],"nice":false,"zero":false},"axis":{"values":[0,-10],"title":null,"labelPadding":10,"labelOffset":2,"labelExpr":"''+datum.value"}}},
"layer":[
{"mark":{"type":"rect","width":20.8,"height":14,"clip":true},"encoding":{"color":{"field":"f","type":"quantitative","legend":null,"scale":{"domain":[0,0.348,0.416,0.578,0.74,0.88,1.018,1.158,1.296,1.458,1.596,1.736,1.898,1.99,2.128,2.314],"range":["#2e3192","#2e3192","#1c54a4","#0072bc","#00a0dc","#00aeef","#1cb5b5","#8dc97a","#d7df23","#f7ec13","#fbc41a","#f58e26","#f15a29","#ed1c24","#be1e2d","#8a2a1e"]}}}},
{"data":{"name":"tri"},"transform":[{"filter":"isValid(datum.f)"}],"mark":{"type":"point","shape":"M-1,-0.66L-1,0.66L1,0.66Z","filled":true,"size":412,"opacity":1,"strokeWidth":0,"clip":true},"encoding":{"color":{"field":"f","type":"quantitative","legend":null}}},
{"data":{"values":[{"x":4.1,"z":0,"t":"post-1934 - pre-2004"}]},"mark":{"type":"text","dy":-41,"fontSize":33},"encoding":{"text":{"field":"t"}}},
{"data":{"values":[{"x":-37.2,"z":0,"t":"f)"}]},"mark":{"type":"text","align":"left","dx":-23,"dy":-51,"fontSize":37},"encoding":{"text":{"field":"t"}}}
]},
{"width":548,"height":94,"view":{"stroke":null},"data":{"name":"cells"},
"encoding":{"x":{"field":"x","type":"quantitative","scale":{"domain":[-37.2,43.8],"nice":false,"zero":false},"axis":{"values":[-20,0,20,40],"title":"km SE of Carr Hill","labelExpr":"''+datum.value","labelOffset":{"condition":{"test":"datum.value==-20","value":-8},"value":-2}}},"y":{"field":"z","type":"quantitative","scale":{"domain":[-14,0],"nice":false,"zero":false},"axis":{"values":[0,-10],"title":null,"labelPadding":10,"labelOffset":2,"labelExpr":"''+datum.value"}}},
"layer":[
{"mark":{"type":"rect","width":20.8,"height":14,"clip":true},"encoding":{"color":{"field":"d","type":"quantitative","legend":null,"scale":{"domain":[0,0.174,0.208,0.289,0.37,0.44,0.509,0.579,0.648,0.729,0.798,0.868,0.949,0.995,1.064,1.157],"range":["#2e3192","#2e3192","#1c54a4","#0072bc","#00a0dc","#00aeef","#1cb5b5","#8dc97a","#d7df23","#f7ec13","#fbc41a","#f58e26","#f15a29","#ed1c24","#be1e2d","#8a2a1e"]}}}},
{"data":{"values":[{"x":9.2,"z":-7.6}]},"mark":{"type":"point","shape":"M0,-1L0.2245,-0.309L0.951,-0.309L0.363,0.118L0.588,0.809L0,0.382L-0.588,0.809L-0.363,0.118L-0.951,-0.309L-0.2245,-0.309Z","filled":true,"size":1800,"opacity":1,"color":"#ee2a2e"}},
{"data":{"values":[{"x":4,"z":0,"t":"2004 EQ"}]},"mark":{"type":"text","dy":-40,"fontSize":33.7},"encoding":{"text":{"field":"t"}}},
{"data":{"values":[{"x":-37.2,"z":0,"t":"d)"}]},"mark":{"type":"text","align":"left","dx":-33,"dy":-49,"fontSize":37},"encoding":{"text":{"field":"t"}}}
]},
{"width":548,"height":94,"view":{"stroke":null},"data":{"name":"cells"},
"encoding":{"x":{"field":"x","type":"quantitative","scale":{"domain":[-37.2,43.8],"nice":false,"zero":false},"axis":{"values":[-20,0,20,40],"title":"km SE of Carr Hill","labelExpr":"''+datum.value","labelOffset":{"condition":{"test":"datum.value==-20","value":-8},"value":-2}}},"y":{"field":"z","type":"quantitative","scale":{"domain":[-14,0],"nice":false,"zero":false},"axis":{"values":[0,-10],"title":null,"labelPadding":10,"labelOffset":2,"labelExpr":"''+datum.value"}}},
"layer":[
{"mark":{"type":"rect","width":20.8,"height":14,"clip":true},"encoding":{"color":{"field":"g","type":"quantitative","legend":null,"scale":{"domain":[0,0.348,0.416,0.578,0.74,0.88,1.018,1.158,1.296,1.458,1.596,1.736,1.898,1.99,2.128,2.314],"range":["#2e3192","#2e3192","#1c54a4","#0072bc","#00a0dc","#00aeef","#1cb5b5","#8dc97a","#d7df23","#f7ec13","#fbc41a","#f58e26","#f15a29","#ed1c24","#be1e2d","#8a2a1e"]}}}},
{"data":{"name":"tri"},"transform":[{"filter":"isValid(datum.g)"}],"mark":{"type":"point","shape":"M-1,-0.66L-1,0.66L1,0.66Z","filled":true,"size":412,"opacity":1,"strokeWidth":0,"clip":true},"encoding":{"color":{"field":"g","type":"quantitative","legend":null}}},
{"data":{"values":[{"x":3.4,"z":0,"t":"post-1934 - post-2004"}]},"mark":{"type":"text","dy":-40,"fontSize":33},"encoding":{"text":{"field":"t"}}},
{"data":{"values":[{"x":-37.2,"z":0,"t":"g)"}]},"mark":{"type":"text","align":"left","dx":-33,"dy":-49,"fontSize":37},"encoding":{"text":{"field":"t"}}}
]}
]}
